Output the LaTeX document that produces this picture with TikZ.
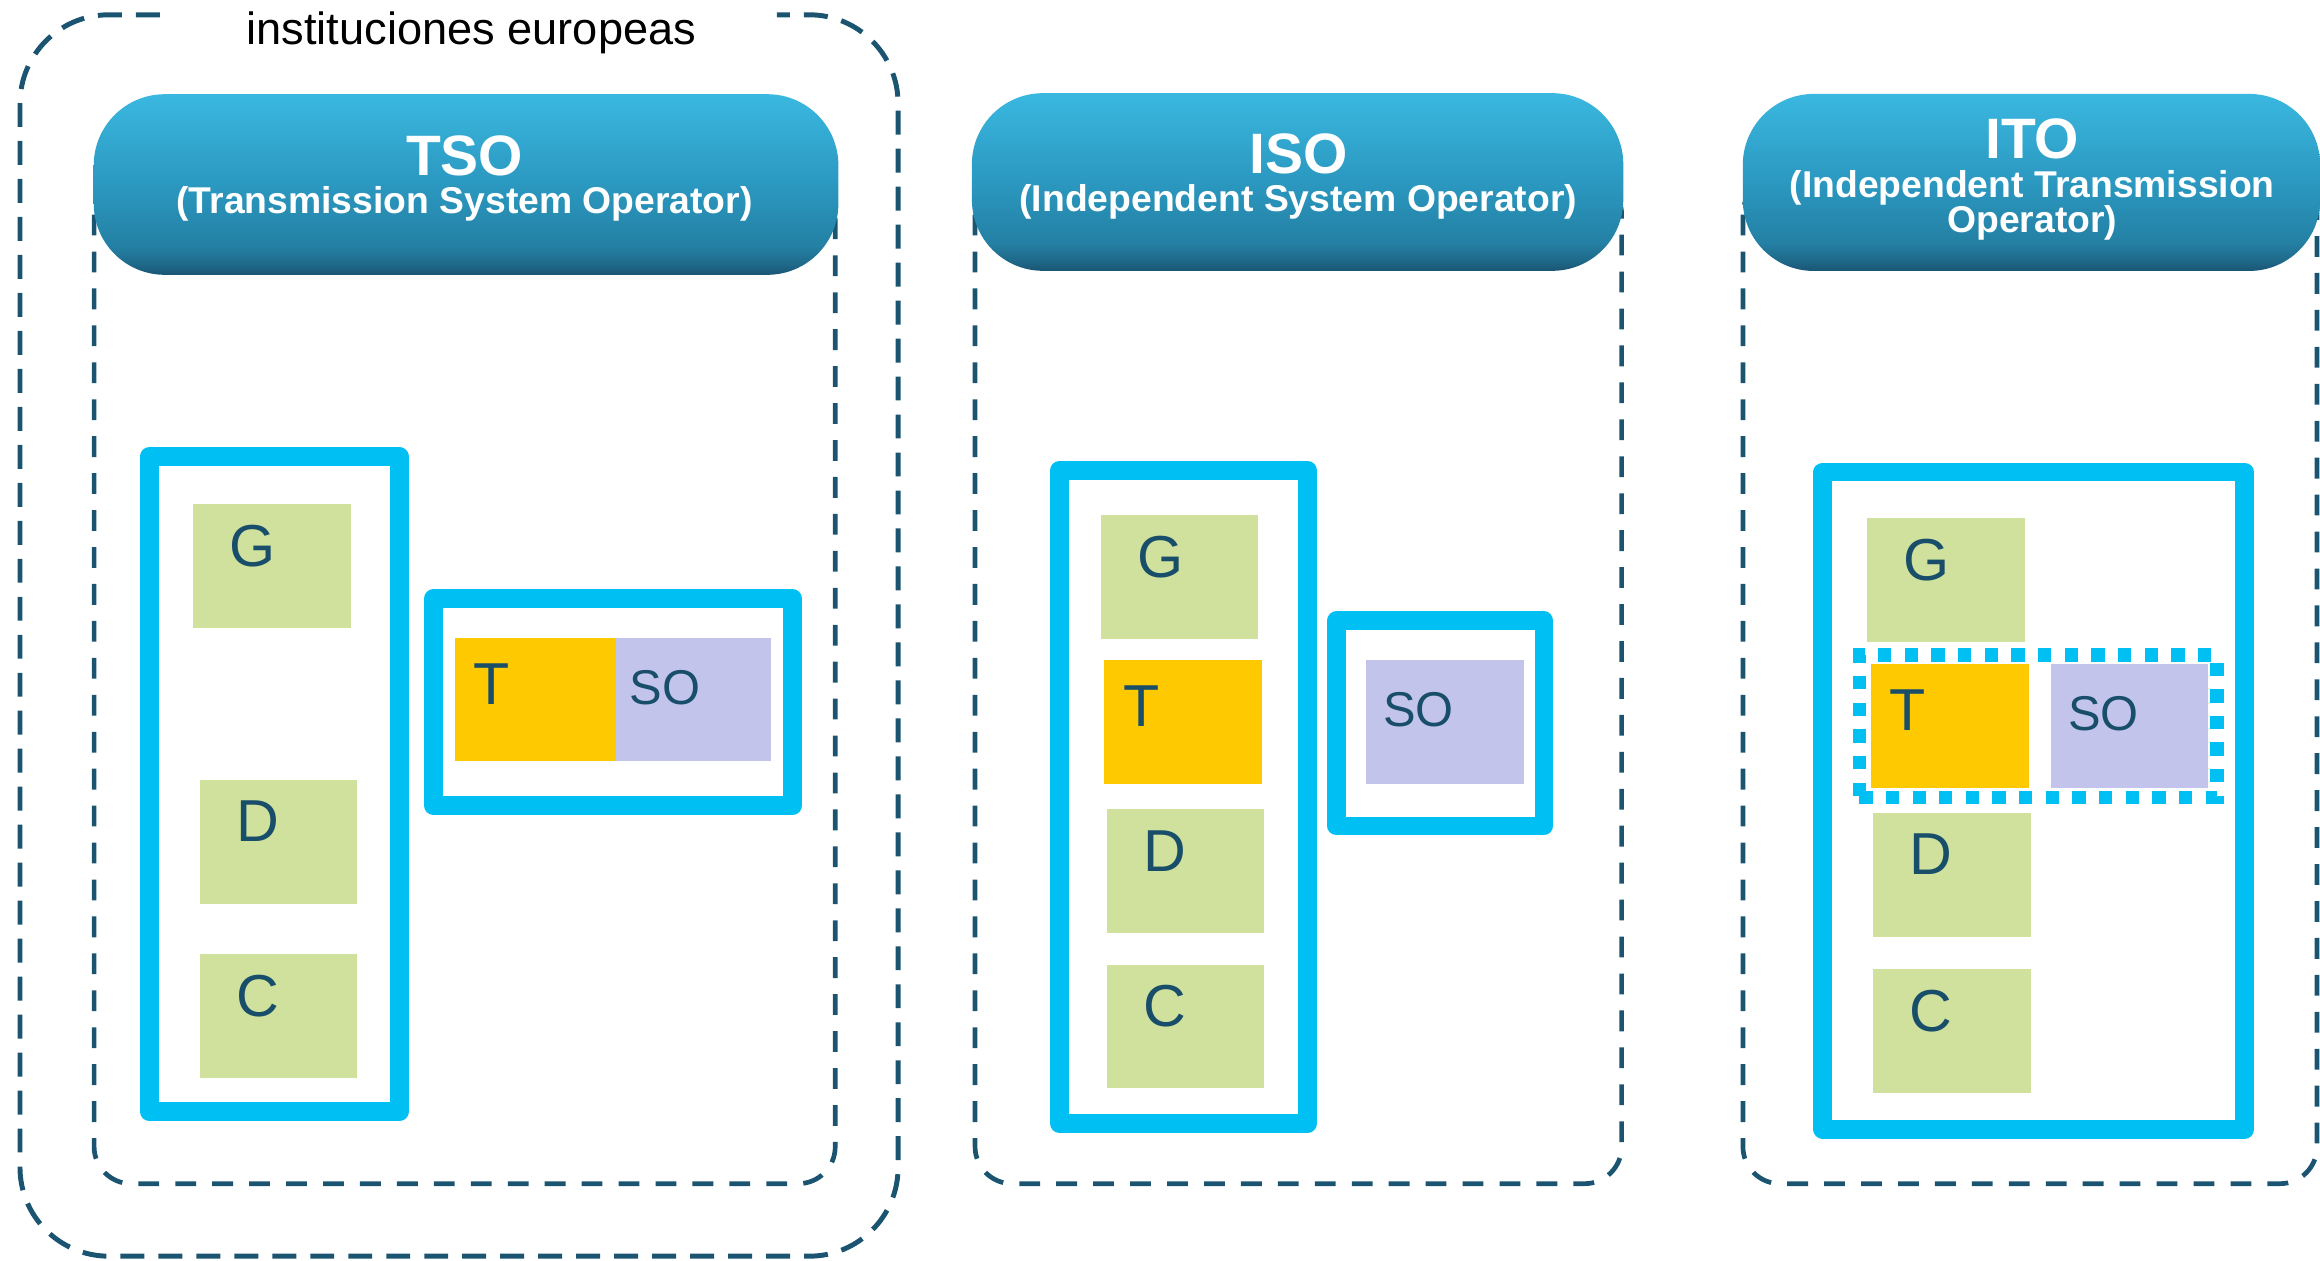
\documentclass[tikz,border=0pt]{standalone}
\usepackage{fontspec}
\setmainfont{Liberation Sans}
\usetikzlibrary{calc}
\definecolor{dashc}{RGB}{27,84,112}
\definecolor{cyanf}{RGB}{0,191,243}
\definecolor{gboxc}{RGB}{207,225,156}
\definecolor{tboxc}{RGB}{255,201,0}
\definecolor{soboxc}{RGB}{195,196,235}
\definecolor{lblc}{RGB}{24,78,106}
\definecolor{hA}{RGB}{26,85,115}
\definecolor{hB}{RGB}{31,105,138}
\definecolor{hC}{RGB}{36,128,164}
\definecolor{hD}{RGB}{43,152,192}
\definecolor{hE}{RGB}{58,184,224}
\pgfdeclareverticalshading{hdrshade}{100bp}{color(0bp)=(hA); color(25bp)=(hA); color(28bp)=(hB); color(33bp)=(hC); color(50bp)=(hD); color(75bp)=(hE); color(100bp)=(hE)}
\begin{document}
\begin{tikzpicture}[x=0.01cm,y=-0.01cm,
  outerbox/.style={draw=dashc, line width=0.95pt, dash pattern=on 4.6pt off 2.7pt, rounded corners=0.6cm},
  panel/.style={draw=dashc, line width=0.9pt, dash pattern=on 4pt off 3.1pt, rounded corners=0.25cm},
  hdr/.style={shade, shading=hdrshade, rounded corners=0.48cm, inner sep=0pt, outer sep=0pt},
  htitle/.style={text=white, font=\fontsize{10.95pt}{12pt}\selectfont\bfseries, inner sep=0pt, anchor=base},
  hsub/.style={text=white, font=\fontsize{7.17pt}{8pt}\selectfont\bfseries, inner sep=0pt, anchor=base},
  frame/.style={draw=cyanf, line width=3.6pt, line join=round, inner sep=0pt, outer sep=0pt, anchor=north west},
  dotframe/.style={draw=cyanf, line width=2.56pt, dash pattern=on 2.56pt off 2.56pt, inner sep=0pt, outer sep=0pt, anchor=north west},
  cellbox/.style={minimum width=1.065cm, minimum height=0.836cm, inner sep=0pt, outer sep=0pt, anchor=north west},
  gbox/.style={cellbox, fill=gboxc},
  tbox/.style={cellbox, fill=tboxc},
  sobox/.style={cellbox, fill=soboxc},
  biglbl/.style={text=lblc, font=\fontsize{11.38pt}{12pt}\selectfont, inner sep=0pt, anchor=base west},
  smalllbl/.style={text=lblc, font=\fontsize{9.39pt}{10pt}\selectfont, inner sep=0pt, anchor=base west}
]
\useasboundingbox (0,0) rectangle (1568,851.6);

% outer dashed group
\draw[outerbox] (108,10) -- (13.5,10) -- (13.5,849) -- (607,849) -- (607,10) -- (525,10);
\node[font=\fontsize{8.68pt}{10pt}\selectfont, anchor=base, inner sep=0pt] (title) at (318.6,30) {instituciones europeas};

% panels
\draw[panel] (63.6,120) rectangle (564.5,800);
\draw[panel] (659,120) rectangle (1096,800);
\draw[panel] (1178,120) rectangle (1566,800);

% headers
\node[hdr, minimum width=5.03cm, minimum height=1.22cm] (hTSO) at (315,124.7) {};
\node[htitle] (tTSO) at (314,118.5) {TSO};
\node[hsub] (sTSO) at (314,144) {(Transmission System Operator)};

\node[hdr, minimum width=4.40cm, minimum height=1.20cm] (hISO) at (877,123) {};
\node[htitle] (tISO) at (877.5,117.5) {ISO};
\node[hsub] (sISO) at (877.5,143) {(Independent System Operator)};

\node[hdr, minimum width=3.90cm, minimum height=1.196cm] (hITO) at (1373,123.3) {};
\node[htitle] (tITO) at (1373.5,107.3) {ITO};
\node[hsub] (sITO1) at (1373.5,133.2) {(Independent Transmission};
\node[hsub] (sITO2) at (1373.5,157.2) {Operator)};

% ---- TSO ----
\node[frame, minimum width=1.69cm, minimum height=4.425cm] (fTSO1) at (100.8,308.6) {};
\node[frame, minimum width=2.425cm, minimum height=1.40cm] (fTSO2) at (293,404.5) {};
\node[gbox] (g1) at (130.7,340.6) {};
\node[gbox] (d1) at (135,527) {};
\node[gbox] (c1) at (135,645) {};
\node[tbox, minimum width=1.085cm] (t1) at (307.5,431) {};
\node[sobox, minimum width=1.047cm] (so1) at (416,431) {};
\node[biglbl] (lg1) at ($(g1.north west)+(24,42)$) {G};
\node[biglbl] (ld1) at ($(d1.north west)+(24,42)$) {D};
\node[biglbl] (lc1) at ($(c1.north west)+(24,42)$) {C};
\node[biglbl] (lt1) at ($(t1.north west)+(12,45)$) {T};
\node[smalllbl] (lso1) at ($(so1.north west)+(9,45)$) {SO};

% ---- ISO ----
\node[frame, minimum width=1.677cm, minimum height=4.41cm] (fISO1) at (716,318) {};
\node[frame, minimum width=1.40cm, minimum height=1.385cm] (fISO2) at (903.4,419.6) {};
\node[gbox] (g2) at (744,348) {};
\node[tbox] (t2) at (746.4,446) {};
\node[gbox] (d2) at (748,547) {};
\node[gbox] (c2) at (748,652) {};
\node[sobox] (so2) at (923.2,446) {};
\node[biglbl] (lg2) at ($(g2.north west)+(24,42)$) {G};
\node[biglbl] (lt2) at ($(t2.north west)+(12,45)$) {T};
\node[biglbl] (ld2) at ($(d2.north west)+(24,42)$) {D};
\node[biglbl] (lc2) at ($(c2.north west)+(24,42)$) {C};
\node[smalllbl] (lso2) at ($(so2.north west)+(11,45)$) {SO};

% ---- ITO ----
\node[frame, minimum width=2.85cm, minimum height=4.44cm] (fITO1) at (1232,319) {};
\node[gbox] (g3) at (1262,350) {};
\node[tbox] (t3) at (1264.5,448.8) {};
\node[sobox] (so3) at (1386,448.8) {};
\node[gbox] (d3) at (1266,549.3) {};
\node[gbox] (c3) at (1266,655) {};
\node[dotframe, minimum width=2.416cm, minimum height=0.964cm] (fITO2) at (1256.6,442.7) {};
\node[biglbl] (lg3) at ($(g3.north west)+(24,42)$) {G};
\node[biglbl] (lt3) at ($(t3.north west)+(12,45)$) {T};
\node[smalllbl] (lso3) at ($(so3.north west)+(11,45)$) {SO};
\node[biglbl] (ld3) at ($(d3.north west)+(24,42)$) {D};
\node[biglbl] (lc3) at ($(c3.north west)+(24,42)$) {C};
\end{tikzpicture}
\end{document}
